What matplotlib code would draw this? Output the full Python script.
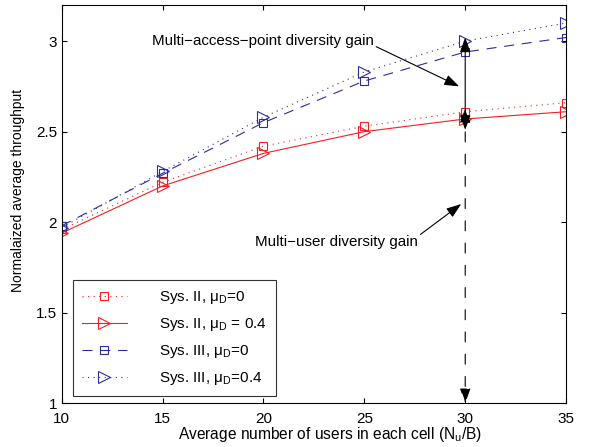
import matplotlib
matplotlib.use('Agg')
import matplotlib.pyplot as plt

plt.rcParams['font.family'] = ['Liberation Sans', 'DejaVu Sans']
plt.rcParams['mathtext.fontset'] = 'custom'
plt.rcParams['mathtext.rm'] = 'Liberation Sans'
plt.rcParams['mathtext.it'] = 'Liberation Sans'

users = [10, 15, 20, 25, 30, 35]
sys2_mu0 = [1.96, 2.22, 2.42, 2.53, 2.61, 2.66]
sys2_mu04 = [1.94, 2.20, 2.38, 2.50, 2.57, 2.61]
sys3_mu0 = [1.98, 2.27, 2.55, 2.78, 2.94, 3.02]
sys3_mu04 = [1.97, 2.28, 2.58, 2.83, 3.00, 3.10]

labels = [r'Sys. II, $\mathrm{\mu_D}$=0', r'Sys. II, $\mathrm{\mu_D}$ = 0.4',
          r'Sys. III, $\mathrm{\mu_D}$=0', r'Sys. III, $\mathrm{\mu_D}$=0.4']

red = '#f02020'
blue = '#2d2d99'
dot = (0, (1, 4))

fig = plt.figure(figsize=(5.94, 4.47), dpi=100)
ax = fig.add_axes([0.104, 0.098, 0.849, 0.891])

mk = dict(markerfacecolor='none', markeredgewidth=0.8, linewidth=0.8)
ax.plot(users, sys2_mu0, color=red, linestyle=dot, marker='s', markersize=6, label=labels[0], **mk)
ax.plot(users, sys2_mu04, color=red, linestyle='-', marker='>', markersize=8, label=labels[1], **mk)
ax.plot(users, sys3_mu0, color=blue, linestyle=(0, (9, 7)), marker='s', markersize=6, label=labels[2], **mk)
ax.plot(users, sys3_mu04, color=blue, linestyle=dot, marker='>', markersize=8, label=labels[3], **mk)

head = '-|>,head_length=0.5,head_width=0.18'
both = '<|-|>,head_length=0.5,head_width=0.18'

# gain arrows at x = 30 (heads overlap like an hourglass near 2.57)
ax.annotate('', xy=(30, 3.02), xytext=(30, 2.51),
            arrowprops=dict(arrowstyle=both, color='black', lw=0.8,
                            mutation_scale=18, shrinkA=0, shrinkB=0))
ax.annotate('', xy=(30, 1.0), xytext=(30, 2.63),
            arrowprops=dict(arrowstyle=both, color='black', lw=0.8, linestyle=(0, (9, 11)),
                            mutation_scale=18, shrinkA=0, shrinkB=0))

ax.annotate('Multi\u2212access\u2212point diversity gain', xy=(29.7, 2.75), xytext=(14.45, 3.0),
            fontsize=10.9, va='center',
            arrowprops=dict(arrowstyle=head, color='black', lw=0.8, mutation_scale=18,
                            shrinkA=0, shrinkB=0, relpos=(1.0, 0.2)))
ax.annotate('Multi\u2212user diversity gain', xy=(29.8, 2.1), xytext=(19.57, 1.89),
            fontsize=10.9, va='center',
            arrowprops=dict(arrowstyle=head, color='black', lw=0.8, mutation_scale=18,
                            shrinkA=0, shrinkB=0, relpos=(1.0, 0.9)))

ax.set_xlim(10, 35)
ax.set_ylim(1, 3.2)
ax.set_xticks([10, 15, 20, 25, 30, 35])
ax.set_yticks([1, 1.5, 2, 2.5, 3])
ax.set_yticklabels(['1', '1.5', '2', '2.5', '3'])
ax.tick_params(direction='in', top=True, right=True, labelsize=11)
ax.tick_params(axis='x', pad=6)
ax.set_xlabel(r'Average number of users in each cell (N$\mathrm{_u}$/B)', fontsize=11.2)
ax.xaxis.set_label_coords(0.532, -0.055)
ax.set_ylabel('Normalaized average throughput', fontsize=10)
ax.yaxis.set_label_coords(-0.073, 0.533)

leg = ax.legend(loc='lower left', bbox_to_anchor=(0.0218, 0.0176), borderaxespad=0,
                fontsize=11, fancybox=False, edgecolor='black', handlelength=2.95,
                handletextpad=2.1, borderpad=0.6, labelspacing=0.65)
leg.get_frame().set_linewidth(0.8)

plt.savefig('out.png', dpi=100)
